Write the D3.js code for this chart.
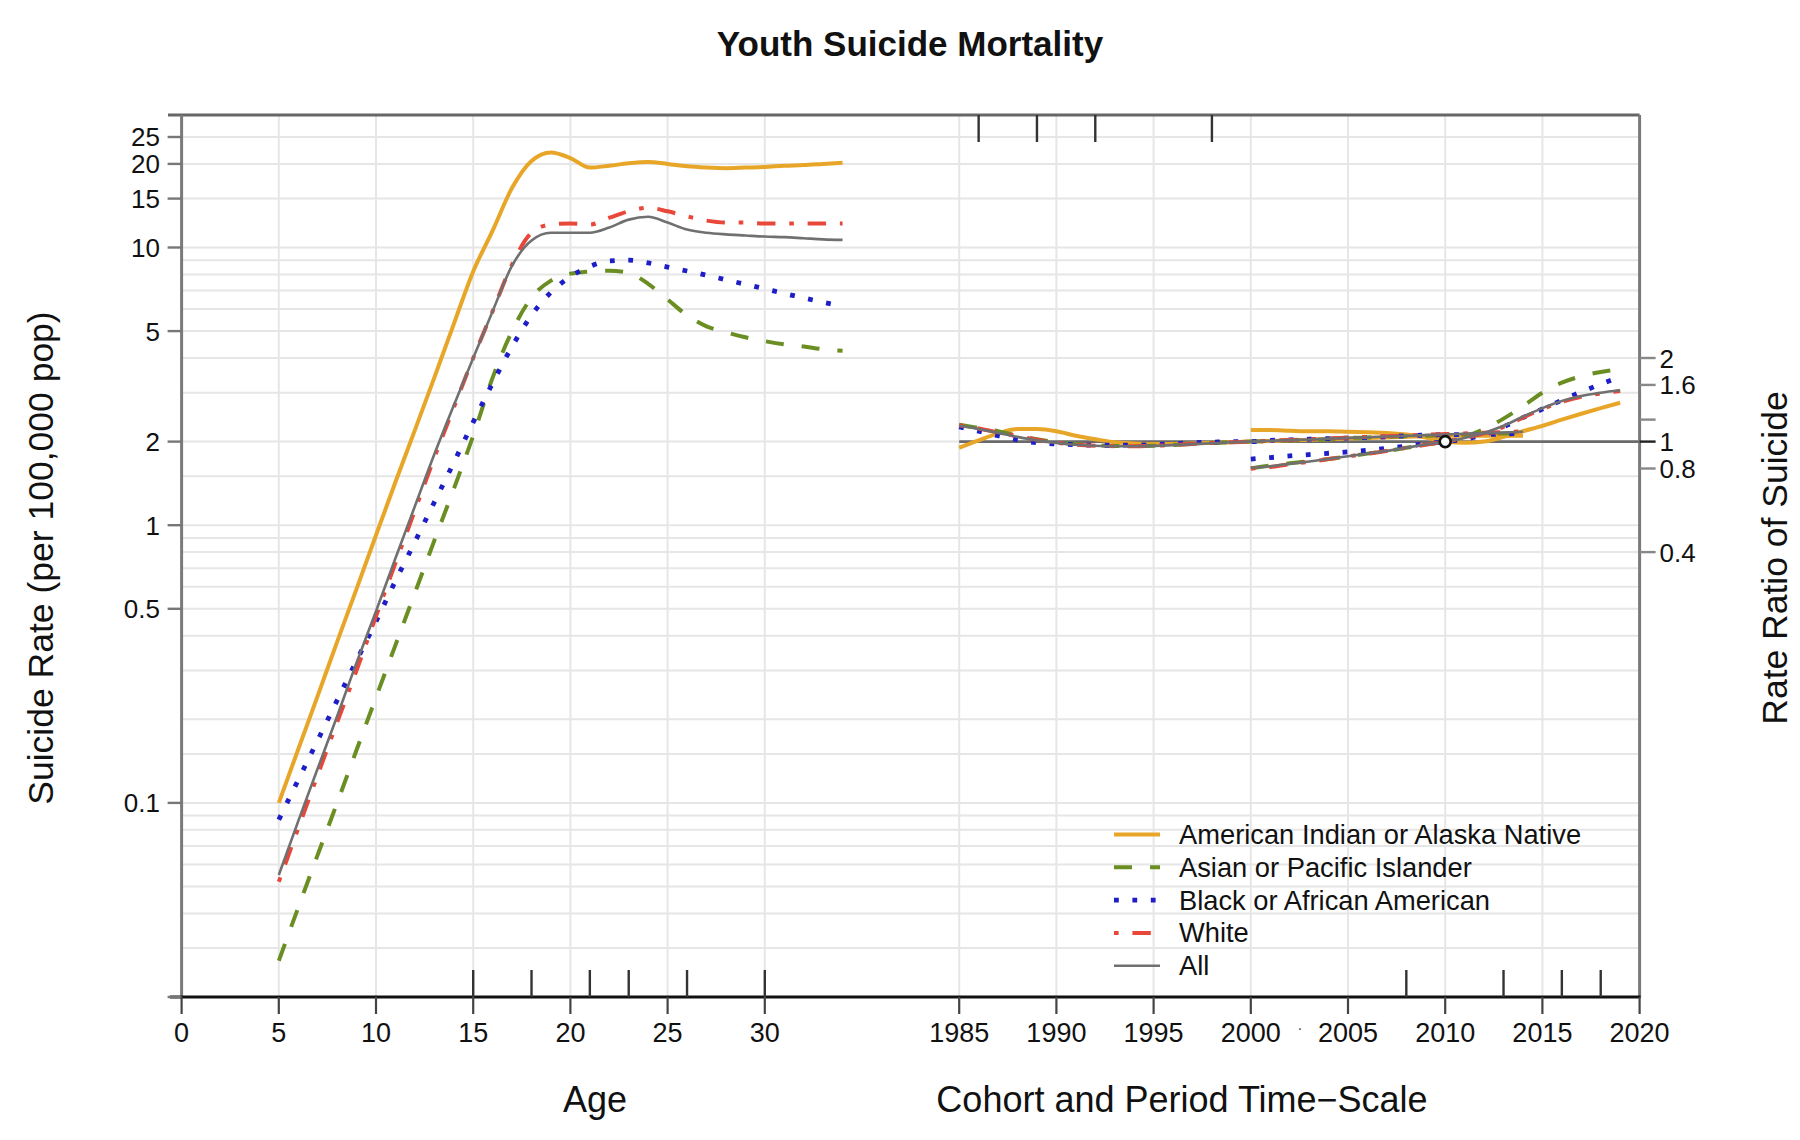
<!DOCTYPE html>
<html><head><meta charset="utf-8">
<script src="https://cdn.jsdelivr.net/npm/d3@7"></script>
<style>
body{margin:0;background:#fff;}
svg{display:block;font-family:"Liberation Sans",Arial,Helvetica,sans-serif;}
</style></head><body>
<svg id="chart" width="1800" height="1140"></svg>
<script>
// ---------------- DATA ----------------
const seriesNames = ["American Indian or Alaska Native","Asian or Pacific Islander","Black or African American","White","All"];
const ages = [5,6,7,8,9,10,11,12,13,14,15,16,17,18,19,20,21,22,23,24,25,26,27,28,29,30,31,32,33,34];
const rateAIAN  = [0.10,0.156,0.243,0.38,0.59,0.92,1.43,2.2,3.4,5.3,8.2,11.5,16.4,20.5,22.0,21.0,19.4,19.7,20.1,20.3,20.0,19.6,19.4,19.3,19.4,19.5,19.7,19.8,20.0,20.2];
const rateAPI   = [0.027,0.042,0.065,0.10,0.155,0.24,0.37,0.57,0.88,1.35,2.1,3.4,5.0,6.6,7.6,8.05,8.2,8.25,8.1,7.4,6.5,5.7,5.2,4.95,4.75,4.6,4.48,4.4,4.3,4.25];
const rateBlack = [0.087,0.121,0.168,0.234,0.325,0.45,0.63,0.87,1.21,1.68,2.35,3.25,4.4,5.7,6.9,7.85,8.55,8.95,9.0,8.8,8.5,8.23,7.95,7.65,7.37,7.1,6.83,6.58,6.35,6.15];
const rateWhite = [0.052,0.081,0.126,0.195,0.30,0.47,0.73,1.13,1.75,2.65,4.0,5.9,8.7,11.3,12.1,12.2,12.1,12.8,13.5,13.9,13.5,12.95,12.5,12.3,12.3,12.2,12.2,12.2,12.2,12.2];
const rateAll   = [0.055,0.086,0.133,0.205,0.32,0.49,0.76,1.17,1.8,2.7,4.0,5.9,8.6,10.6,11.3,11.3,11.3,11.8,12.6,12.9,12.3,11.6,11.3,11.15,11.05,10.95,10.9,10.8,10.7,10.65];

const cohortYears = [1985,1986,1987,1988,1989,1990,1991,1992,1993,1994,1995,1996,1997,1998,1999,2000,2001,2002,2003,2004,2005,2006,2007,2008,2009,2010,2011,2012,2013,2014];
const cohortAIAN  = [0.95,1.01,1.07,1.11,1.11,1.09,1.05,1.02,0.995,0.985,0.98,0.98,0.985,0.99,0.995,1.0,1.005,1.01,1.015,1.02,1.025,1.03,1.035,1.04,1.045,1.05,1.05,1.05,1.05,1.05];
const cohortAPI   = [1.15,1.12,1.09,1.05,1.02,0.995,0.98,0.97,0.965,0.965,0.967,0.972,0.98,0.99,0.995,1.0,1.005,1.01,1.015,1.02,1.03,1.035,1.04,1.045,1.05,1.055,1.06,1.065,1.07,1.075];
const cohortBlack = [1.13,1.09,1.05,1.015,0.99,0.98,0.975,0.97,0.97,0.972,0.975,0.982,0.99,0.995,1.0,1.0,1.01,1.015,1.02,1.025,1.03,1.035,1.04,1.05,1.055,1.06,1.06,1.06,1.065,1.07];
const cohortWhite = [1.145,1.115,1.08,1.045,1.015,0.99,0.975,0.967,0.963,0.963,0.966,0.972,0.98,0.988,0.995,1.0,1.007,1.014,1.02,1.027,1.033,1.04,1.046,1.052,1.058,1.064,1.07,1.076,1.082,1.088];
const cohortAll   = [1.14,1.11,1.075,1.04,1.01,0.988,0.974,0.966,0.962,0.962,0.965,0.971,0.979,0.987,0.994,1.0,1.006,1.012,1.018,1.025,1.031,1.037,1.043,1.049,1.055,1.061,1.067,1.073,1.079,1.085];

const periodYears = [2000,2001,2002,2003,2004,2005,2006,2007,2008,2009,2010,2011,2012,2013,2014,2015,2016,2017,2018,2019];
const periodAIAN  = [1.10,1.10,1.095,1.09,1.09,1.085,1.08,1.075,1.06,1.035,1.0,0.99,1.0,1.04,1.09,1.14,1.2,1.26,1.32,1.38];
const periodAPI   = [0.80,0.82,0.835,0.85,0.865,0.885,0.905,0.925,0.95,0.975,1.0,1.04,1.11,1.21,1.34,1.50,1.63,1.72,1.78,1.82];
const periodBlack = [0.865,0.876,0.888,0.898,0.908,0.918,0.93,0.945,0.963,0.982,1.0,1.02,1.06,1.13,1.22,1.31,1.41,1.51,1.61,1.71];
const periodWhite = [0.80,0.81,0.83,0.845,0.865,0.885,0.905,0.925,0.95,0.975,1.0,1.03,1.07,1.13,1.22,1.31,1.39,1.45,1.49,1.52];
const periodAll   = [0.805,0.815,0.832,0.848,0.866,0.886,0.906,0.926,0.951,0.976,1.0,1.03,1.075,1.14,1.23,1.32,1.40,1.46,1.50,1.53];

const ageTicks = [0,5,10,15,20,25,30];
const calTicks = [1985,1990,1995,2000,2005,2010,2015,2020];
const rateTicks = [0.1,0.5,1,2,5,10,15,20,25];
const rateTickLabels = ["0.1","0.5","1","2","5","10","15","20","25"];
const rrTicks = [0.4,0.8,1,1.2,1.6,2];
const rrTickLabels = ["0.4","0.8","1","","1.6","2"];
const gridRates = [0.03,0.04,0.05,0.06,0.07,0.08,0.09,0.1,0.15,0.2,0.3,0.4,0.5,0.6,0.7,0.8,0.9,1,1.5,2,3,4,5,6,7,8,9,10,15,20,25];
const gridAges = [5,10,15,20,25,30];
const gridYears = [1985,1990,1995,2000,2005,2010,2015];
const ageKnots = [15,18,21,23,26,30];
const cohortKnots = [1986,1989,1992,1998];
const periodKnots = [2008,2013,2016,2018];
const refPeriod = 2010;

// ---------------- LAYOUT ----------------
const svg = d3.select("#chart");
const L = 181.6, R = 1639.6, T = 115, B = 997;
const xAge = d3.scaleLinear().domain([0,75]).range([L,R]);
const xCal = d3.scaleLinear().domain([1945,2020]).range([L,R]);
const yRate = d3.scaleLog().domain([0.02,30]).range([B,T]);
const yRR = d3.scaleLog().domain([0.01,15]).range([B,T]);

const colors = ["#E8A628","#6B8E23","#1E1EC8","#E8473A","#707070"];
const dashes = [null,"18,18","4.8,13.6","4.6,13.8,18.4,13.8",null];
const widths = [4,4,4.8,4,2.6];

// grid
const grid = svg.append("g");
gridRates.forEach(v=>{
  grid.append("line").attr("x1",L).attr("x2",R).attr("y1",yRate(v)).attr("y2",yRate(v))
    .attr("stroke","#e6e6e6").attr("stroke-width",2);
});
gridAges.forEach(a=>{
  grid.append("line").attr("x1",xAge(a)).attr("x2",xAge(a)).attr("y1",T).attr("y2",B)
    .attr("stroke","#e6e6e6").attr("stroke-width",2);
});
gridYears.forEach(a=>{
  grid.append("line").attr("x1",xCal(a)).attr("x2",xCal(a)).attr("y1",T).attr("y2",B)
    .attr("stroke","#e6e6e6").attr("stroke-width",2);
});

// RR = 1 reference line
svg.append("line").attr("x1",xCal(1985)).attr("x2",R).attr("y1",yRR(1)).attr("y2",yRR(1))
  .attr("stroke","#6a6a6a").attr("stroke-width",2.6);

// curves
const lineAge = d3.line().x(d=>xAge(d[0])).y(d=>yRate(d[1])).curve(d3.curveMonotoneX);
const lineCal = d3.line().x(d=>xCal(d[0])).y(d=>yRR(d[1])).curve(d3.curveMonotoneX);
const ageSeries = [rateAIAN,rateAPI,rateBlack,rateWhite,rateAll];
const cohortSeries = [cohortAIAN,cohortAPI,cohortBlack,cohortWhite,cohortAll];
const periodSeries = [periodAIAN,periodAPI,periodBlack,periodWhite,periodAll];
const curves = svg.append("g").attr("fill","none");
function drawPath(g, d, i){
  const p = g.append("path").attr("d",d).attr("stroke",colors[i]).attr("stroke-width",widths[i]);
  if(dashes[i]) p.attr("stroke-dasharray",dashes[i]);
  return p;
}
[0,1,2,3,4].forEach(i=>{
  drawPath(curves, lineAge(ages.map((a,k)=>[a,ageSeries[i][k]])), i);
  drawPath(curves, lineCal(cohortYears.map((a,k)=>[a,cohortSeries[i][k]])), i);
  drawPath(curves, lineCal(periodYears.map((a,k)=>[a,periodSeries[i][k]])), i);
});

// reference point
svg.append("circle").attr("cx",xCal(refPeriod)).attr("cy",yRR(1)).attr("r",5.5)
  .attr("fill","#fff").attr("stroke","#111").attr("stroke-width",2.6);

// frame
svg.append("line").attr("x1",168).attr("x2",R).attr("y1",T).attr("y2",T).attr("stroke","#666").attr("stroke-width",3);
svg.append("line").attr("x1",L).attr("x2",L).attr("y1",T).attr("y2",B).attr("stroke","#7a7a7a").attr("stroke-width",3);
svg.append("line").attr("x1",R).attr("x2",R).attr("y1",T).attr("y2",B).attr("stroke","#7a7a7a").attr("stroke-width",3);
svg.append("line").attr("x1",170).attr("x2",R+1).attr("y1",B).attr("y2",B).attr("stroke","#111").attr("stroke-width",3.2);

// inner knot ticks
ageKnots.forEach(a=>{
  svg.append("line").attr("x1",xAge(a)).attr("x2",xAge(a)).attr("y1",B).attr("y2",B-27).attr("stroke","#333").attr("stroke-width",2.4);
});
periodKnots.forEach(a=>{
  svg.append("line").attr("x1",xCal(a)).attr("x2",xCal(a)).attr("y1",B).attr("y2",B-27).attr("stroke","#333").attr("stroke-width",2.4);
});
cohortKnots.forEach(a=>{
  svg.append("line").attr("x1",xCal(a)).attr("x2",xCal(a)).attr("y1",T).attr("y2",T+27).attr("stroke","#333").attr("stroke-width",2.4);
});

// left axis ticks
const tfs = 26;
rateTicks.forEach((v,i)=>{
  const y = yRate(v);
  svg.append("line").attr("x1",L-14).attr("x2",L).attr("y1",y).attr("y2",y).attr("stroke","#777").attr("stroke-width",2.4);
  svg.append("text").attr("x",160).attr("y",y+9.5).attr("text-anchor","end").attr("font-size",tfs).attr("fill","#111").text(rateTickLabels[i]);
});
svg.append("line").attr("x1",L-14).attr("x2",L).attr("y1",yRate(0.02)).attr("y2",yRate(0.02)).attr("stroke","#777").attr("stroke-width",2.4);

// right axis ticks
rrTicks.forEach((v,i)=>{
  const y = yRR(v);
  svg.append("line").attr("x1",R).attr("x2",R+16).attr("y1",y).attr("y2",y).attr("stroke",v===1?"#222":"#888").attr("stroke-width",2.4);
  if(rrTickLabels[i]) svg.append("text").attr("x",R+20).attr("y",y+9.5).attr("font-size",tfs).attr("fill","#111").text(rrTickLabels[i]);
});

// bottom ticks
ageTicks.forEach(a=>{
  svg.append("line").attr("x1",xAge(a)).attr("x2",xAge(a)).attr("y1",B).attr("y2",B+17).attr("stroke","#444").attr("stroke-width",2.2);
  svg.append("text").attr("x",xAge(a)).attr("y",1042).attr("text-anchor","middle").attr("font-size",27).attr("fill","#111").text(a);
});
calTicks.forEach(a=>{
  svg.append("line").attr("x1",xCal(a)).attr("x2",xCal(a)).attr("y1",B).attr("y2",B+17).attr("stroke","#444").attr("stroke-width",2.2);
  svg.append("text").attr("x",xCal(a)).attr("y",1042).attr("text-anchor","middle").attr("font-size",27).attr("fill","#111").text(a);
});
svg.append("text").attr("x",1300).attr("y",1034).attr("text-anchor","middle").attr("font-size",16).attr("fill","#555").text("·");

// titles
svg.append("text").attr("x",910).attr("y",56).attr("text-anchor","middle").attr("font-size",35).attr("font-weight","bold").attr("fill","#111").text("Youth Suicide Mortality");
svg.append("text").attr("x",595).attr("y",1112).attr("text-anchor","middle").attr("font-size",36).attr("fill","#111").text("Age");
svg.append("text").attr("x",1182).attr("y",1112).attr("text-anchor","middle").attr("font-size",36).attr("fill","#111").text("Cohort and Period Time\u2212Scale");
svg.append("text").attr("transform","translate(53,558) rotate(-90)").attr("text-anchor","middle").attr("font-size",35.5).attr("fill","#111").text("Suicide Rate (per 100,000 pop)");
svg.append("text").attr("transform","translate(1787,558) rotate(-90)").attr("text-anchor","middle").attr("font-size",35.5).attr("fill","#111").text("Rate Ratio of Suicide");

// legend
const lg = svg.append("g");
seriesNames.forEach((n,i)=>{
  const y = 834.5 + i*32.8;
  const l = lg.append("line").attr("x1",1114).attr("x2",1160).attr("y1",y).attr("y2",y)
    .attr("stroke",colors[i]).attr("stroke-width",widths[i]);
  if(dashes[i]) l.attr("stroke-dasharray",dashes[i]);
  lg.append("text").attr("x",1179).attr("y",y+9.5).attr("font-size",27.3).attr("fill","#111").text(n);
});
</script>
</body></html>
